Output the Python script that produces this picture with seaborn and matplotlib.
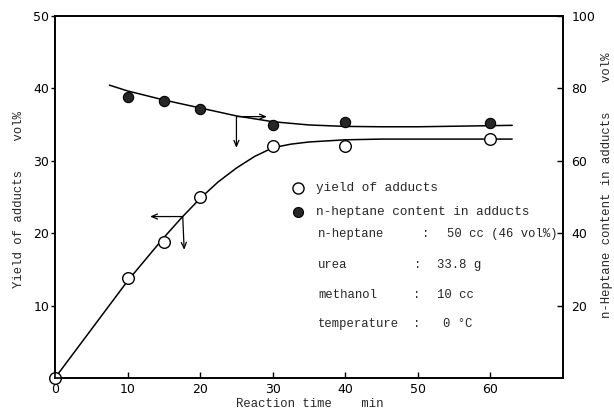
import numpy as np
import pandas as pd
import matplotlib
matplotlib.use("Agg")
import matplotlib.pyplot as plt
import seaborn as sns

# ---- data ----
time_min = [0, 10, 15, 20, 30, 40, 60]
yield_vol = [0, 13.8, 18.8, 25.0, 32.1, 32.0, 33.0]

hep_time = [10, 15, 20, 30, 40, 60]
heptane_vol = [77.7, 76.4, 74.4, 70.0, 70.6, 70.4]

# hand-drawn fitted curves (knots)
yield_curve_t = [0, 5, 10, 15, 17.5, 20, 22.5, 25, 27.5, 30, 32.5, 35, 40, 45, 50, 60, 63]
yield_curve_v = [0, 6.7, 13.4, 19.4, 22.2, 24.8, 27.1, 29.0, 30.6, 31.8, 32.3, 32.6,
                 32.9, 33.0, 33.0, 33.0, 33.0]
hep_curve_t = [7.5, 10, 15, 20, 25, 30, 35, 40, 45, 50, 60, 63]
hep_curve_v = [80.9, 79.3, 76.8, 74.6, 72.4, 70.8, 69.9, 69.5, 69.4, 69.4, 69.7, 69.8]

x_ticks = [0, 10, 20, 30, 40, 50, 60]
left_ticks = [10, 20, 30, 40, 50]
right_ticks = [20, 40, 60, 80, 100]

legend_labels = ["yield of adducts", "n-heptane content in adducts"]
cond_names = ["n-heptane", "urea", "methanol", "temperature"]
cond_values = ["50 cc (46 vol%)", "33.8 g", "10 cc", "0 °C"]

# ---- style ----
sns.set_theme(style="ticks")
plt.rcParams["font.family"] = ["DejaVu Sans"]
MONO = ["Liberation Mono", "DejaVu Sans Mono"]

W, H = 614, 412
fig = plt.figure(figsize=(W / 100, H / 100), dpi=100)
ax = fig.add_axes([55 / W, 1 - 378 / H, 508 / W, 362 / H])
ax.set_facecolor("white")

# yield curve and points (left axis)
sns.lineplot(x=yield_curve_t, y=yield_curve_v, ax=ax, color="black", lw=1.1,
             sort=False, estimator=None)
sns.scatterplot(x=time_min, y=yield_vol, ax=ax, s=70, color="white",
                edgecolor="black", linewidth=1.0, zorder=5, clip_on=False)

ax.set_xlim(0, 70)
ax.set_ylim(0, 50)
ax.set_xticks(x_ticks)
ax.set_yticks(left_ticks)
ax.tick_params(axis="x", direction="in", length=4, pad=3.5, labelsize=9,
               width=1, colors="black")
ax.tick_params(axis="y", direction="out", length=3, pad=1, labelsize=9,
               width=1, colors="black")
ax.set_xlabel("")
ax.set_ylabel("")

# heptane content (right axis)
ax2 = ax.twinx()
sns.lineplot(x=hep_curve_t, y=hep_curve_v, ax=ax2, color="black", lw=1.1,
             sort=False, estimator=None)
sns.scatterplot(x=hep_time, y=heptane_vol, ax=ax2, s=55, color="#262626",
                edgecolor="black", linewidth=0.8, zorder=5)
ax2.set_ylim(0, 100)
ax2.set_yticks(right_ticks)
ax2.tick_params(axis="y", direction="in", length=4, pad=6, labelsize=9,
                width=1, colors="black")
ax2.set_ylabel("")

for a in (ax, ax2):
    for s in a.spines.values():
        s.set_visible(True)
        s.set_linewidth(1.2)
        s.set_color("black")

# indicator arrows
ap = dict(arrowstyle="->,head_length=0.35,head_width=0.15", lw=0.9,
          color="black", shrinkA=0, shrinkB=0)
ax2.annotate("", xy=(29.2, 72.2), xytext=(25.0, 72.2), arrowprops=ap)
ax2.annotate("", xy=(25.0, 63.6), xytext=(25.0, 72.2), arrowprops=ap)
ax.annotate("", xy=(13.1, 22.3), xytext=(17.6, 22.3), arrowprops=ap)
ax.annotate("", xy=(17.8, 17.7), xytext=(17.6, 22.3), arrowprops=ap)

# legend block (figure pixel coordinates)
def fx(px):
    return px / W

def fy(py):
    return 1 - py / H

fig.lines.append(plt.Line2D([fx(298)], [fy(188)], marker="o", ms=8.0,
                            mfc="white", mec="black", mew=1.0,
                            transform=fig.transFigure))
fig.lines.append(plt.Line2D([fx(298)], [fy(212)], marker="o", ms=7.2,
                            mfc="#262626", mec="black", mew=0.8,
                            transform=fig.transFigure))
fig.text(fx(316), fy(188), legend_labels[0], family=MONO, fontsize=9.2,
         va="center", ha="left")
fig.text(fx(316), fy(212), legend_labels[1], family=MONO, fontsize=9.2,
         va="center", ha="left")

row_y = [234, 265, 295, 324]
colon_x = [426, 418, 417, 417]
value_x = [447, 437, 437, 443]
for name, val, yy, cx, vx in zip(cond_names, cond_values, row_y, colon_x, value_x):
    fig.text(fx(318), fy(yy), name, family=MONO, fontsize=8.8, va="center", ha="left")
    fig.text(fx(cx), fy(yy), ":", family=MONO, fontsize=8.8, va="center", ha="center")
    fig.text(fx(vx), fy(yy), val, family=MONO, fontsize=8.8, va="center", ha="left")

# axis titles
fig.text(fx(310), fy(404), "Reaction time    min", family=MONO, fontsize=8.8,
         ha="center", va="center")
fig.text(fx(19), fy(199), "Yield of adducts    vol%", family=MONO, fontsize=8.8,
         ha="center", va="center", rotation=90)
fig.text(fx(607), fy(185), "n-Heptane content in adducts    vol%", family=MONO,
         fontsize=8.8, ha="center", va="center", rotation=90)

fig.savefig("out.png", dpi=100, facecolor="white")
